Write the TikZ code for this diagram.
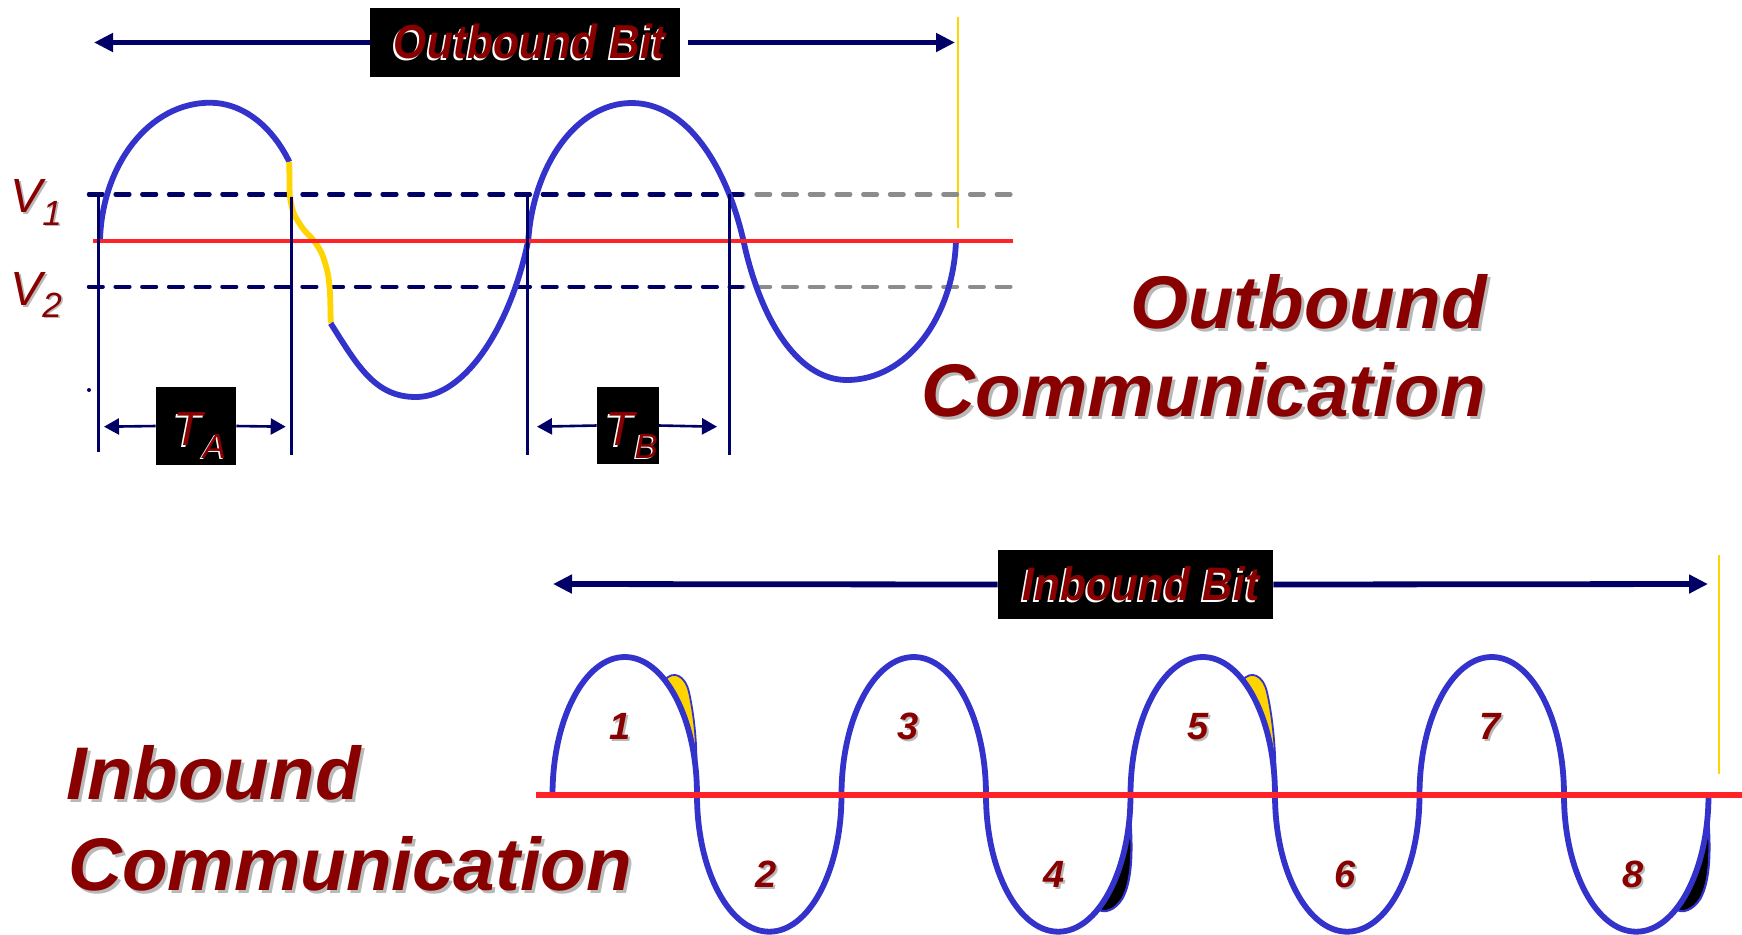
\documentclass[tikz,border=0pt]{standalone}
\usepackage{fontspec}
\setmainfont{Liberation Sans}
\usepackage{xcolor}
\usepackage{graphicx}
\usetikzlibrary{arrows.meta}
\definecolor{navy}{RGB}{0,0,102}
\definecolor{wblue}{RGB}{51,51,204}
\definecolor{lred}{RGB}{255,35,40}
\definecolor{gold}{RGB}{255,212,0}
\definecolor{dred}{RGB}{136,0,0}
\definecolor{dgray}{RGB}{140,140,140}
\definecolor{sgray}{RGB}{185,185,185}
\newcommand\shtext[4]{\makebox[0pt][l]{\hspace*{#2}\raisebox{#3}{\textcolor{#1}{#4}}}#4}
\newcommand\ttlfnt{\fontsize{37.3pt}{44pt}\selectfont\bfseries\itshape}
\newcommand\bitfnt{\fontsize{21.3pt}{24pt}\selectfont\bfseries\itshape}
\newcommand\numfnt{\fontsize{19pt}{22pt}\selectfont\bfseries\itshape}
\newcommand\vfnt{\fontsize{24pt}{28pt}\selectfont\itshape}
\newcommand\subfnt{\fontsize{17.5pt}{20pt}\selectfont\itshape}
\begin{document}
\begin{tikzpicture}[x=0.5pt,y=-0.5pt,
  wave/.style={wblue,line width=2.9pt},
  yel/.style={gold,line width=2.9pt},
  dsh/.style={line width=2.2pt,dash pattern=on 6.8pt off 6.55pt,line cap=round},
  vline/.style={navy,line width=1.6pt},
  bigarrow/.style={navy,line width=2.9pt,-{Triangle[length=9.5pt,width=9pt]}},
  smallarrow/.style={navy,line width=1.3pt,-{Triangle[length=7.5pt,width=8pt]}},
  blackbox/.style={fill=black,inner sep=0pt},
  lbl/.style={inner sep=0pt,text=dred},
  ysliver/.style={fill=gold,draw=wblue,line width=0.9pt},
  bsliver/.style={fill=black,draw=wblue,line width=1.1pt}]
\useasboundingbox (0,0) rectangle (1742,934);

% ================= OUTBOUND =================
\draw[gold,line width=0.8pt] (958,17) -- (958,228);
% dashed level lines
\draw[dsh,dgray] (89,194.3) -- (1013,194.3);
\draw[dsh,dgray] (89,286.7) -- (1013,286.7);
\draw[dsh,navy] (89,194.3) -- (742,194.3);
\draw[dsh,navy] (89,286.7) -- (742,286.7);
% waveform
\draw[wave] (100,240) .. controls (102.2,164.5) and (149.5,102.7) .. (210,102.7)
  arc[start angle=270,end angle=325.3,x radius=96.5,y radius=137.3];
\draw[yel] plot[smooth] coordinates {(289.3,161.9) (289.5,180) (290,197) (294,214) (303.3,229) (313.3,240) (321.7,253.3) (327.5,272) (329.8,290) (330.5,310) (330.7,323.3)};
\draw[wave] (330.7,323.3) .. controls (358.7,368) and (376,397) .. (416,397)
  .. controls (466.5,397) and (511.5,323.2) .. (528.3,240)
  .. controls (533.5,164.6) and (576.9,103) .. (631.7,103)
  .. controls (687.5,103) and (726.6,167.4) .. (743.3,240)
  .. controls (758.9,314.2) and (795.1,380) .. (847,380)
  .. controls (907,380) and (953.8,317) .. (956,240);
% zero line
\draw[lred,line width=2pt] (92.7,240.7) -- (1013,240.7);
% vertical timing lines
\draw[vline] (98.7,191.7) -- (98.7,452);
\draw[vline] (291.7,197) -- (291.7,455);
\draw[vline] (527.5,197) -- (527.5,455);
\draw[vline] (729.3,194) -- (729.3,455);
\fill[navy] (89,390) circle (1pt);
% Outbound Bit box and arrow
\node[blackbox,minimum width=155pt,minimum height=34.5pt] (obit) at (525,42.5)
  {\bitfnt\color{dred}\hspace*{5pt}\scalebox{1}[1.12]{\shtext{white}{-1pt}{-1pt}{Outbound Bit}}};
\coordinate (oL) at (94,42.5);
\coordinate (oR) at (955,42.5);
\draw[bigarrow] (obit.west) -- (oL);
\draw[bigarrow] ([xshift=4pt]obit.east) -- (oR);
% V labels
\node[lbl,anchor=base west] (v1) at (10,212)
  {{\vfnt\shtext{sgray}{1pt}{-1pt}{V}}{\subfnt\raisebox{-6.5pt}{\shtext{sgray}{0.8pt}{-0.8pt}{1}}}};
\node[lbl,anchor=base west] (v2) at (10,305)
  {{\vfnt\shtext{sgray}{1pt}{-1pt}{V}}{\subfnt\raisebox{-6pt}{\shtext{sgray}{0.8pt}{-0.8pt}{2}}}};
% TA
\node[blackbox,text=dred,minimum width=40pt,text height=28.9pt,text depth=9.9pt] (ta) at (196,426)
  {\hspace*{4pt}{\vfnt\shtext{white}{-1pt}{-1pt}{T}}{\subfnt\raisebox{-6.5pt}{\shtext{white}{-0.8pt}{-0.8pt}{A}}}};
\coordinate (taL) at (104,426.7);
\coordinate (taR) at (285.7,426.7);
\draw[smallarrow] (ta.west) -- (taL);
\draw[smallarrow] (ta.east) -- (taR);
% TB
\node[blackbox,text=dred,minimum width=30.75pt,text height=29pt,text depth=9.5pt] (tb) at (627.75,425.5)
  {\hspace*{4pt}{\vfnt\shtext{white}{-1pt}{-1pt}{T}}{\subfnt\raisebox{-6.5pt}{\shtext{white}{-0.8pt}{-0.8pt}{B}}}};
\coordinate (tbL) at (537,426.7);
\coordinate (tbR) at (717,426.7);
\draw[smallarrow] (tb.west) -- (tbL);
\draw[smallarrow] (tb.east) -- (tbR);
% title
\node[lbl,anchor=base east] (ot1) at (1487,328) {\ttlfnt\shtext{sgray}{1.5pt}{-1.5pt}{Outbound}};
\node[lbl,anchor=base east] (ot2) at (1486,416) {\ttlfnt\shtext{sgray}{1.5pt}{-1.5pt}{Communication}};

% ================= INBOUND =================
\draw[gold,line width=0.8pt] (1719,555) -- (1719,774);
% slivers
\draw[ysliver] (664.7,680.1) .. controls (673,670) and (685,675) .. (689,692)
  .. controls (694,715) and (697.5,745) .. (696.2,775)
  arc[start angle=351.7,end angle=303.6,x radius=72.25,y radius=138] -- cycle;
\draw[ysliver] (1242.7,680.1) .. controls (1251,670) and (1263,675) .. (1267,692)
  .. controls (1273,718) and (1277,760) .. (1274.9,789)
  arc[start angle=357.5,end angle=303.6,x radius=72.25,y radius=138] -- cycle;
\draw[bsliver] (1129.8,814) .. controls (1133,850) and (1132,882) .. (1122,899)
  .. controls (1115,910) and (1104,914) .. (1098.1,909)
  arc[start angle=56.5,end angle=8,x radius=72.25,y radius=136.7] -- cycle;
\draw[bsliver] (1707.8,814) .. controls (1711,850) and (1710,882) .. (1700,899)
  .. controls (1693,910) and (1682,914) .. (1676.1,909)
  arc[start angle=56.5,end angle=8,x radius=72.25,y radius=136.7] -- cycle;
% waveform
\draw[wave] (552.5,795)
  arc[start angle=180,end angle=360,x radius=72.25,y radius=138]
  arc[start angle=180,end angle=0,x radius=72.25,y radius=136.7]
  arc[start angle=180,end angle=360,x radius=72.25,y radius=138]
  arc[start angle=180,end angle=0,x radius=72.25,y radius=136.7]
  arc[start angle=180,end angle=360,x radius=72.25,y radius=138]
  arc[start angle=180,end angle=0,x radius=72.25,y radius=136.7]
  arc[start angle=180,end angle=360,x radius=72.25,y radius=138]
  arc[start angle=180,end angle=0,x radius=72.25,y radius=136.7];
\draw[lred,line width=3.3pt] (536,795) -- (1742,795);
% numbers
\foreach \n/\x/\y in {1/620/739,3/908/739,5/1198/739,7/1490/739,2/766/887,4/1054/887,6/1345/887,8/1633/887}
  \node[lbl,anchor=base] (num\n) at (\x,\y) {\numfnt\shtext{sgray}{1pt}{-1pt}{\n}};
% Inbound Bit box and arrow
\node[blackbox,minimum width=137.5pt,minimum height=34.5pt] (ibit) at (1135.5,584.5)
  {\bitfnt\color{dred}\hspace*{5.5pt}\scalebox{1}[1.1]{\shtext{white}{-1pt}{-1pt}{Inbound Bit}}};
\coordinate (iL) at (553,584);
\coordinate (iR) at (1708,584);
\draw[bigarrow] (ibit.west) -- (iL);
\draw[bigarrow] (ibit.east) -- (iR);
% title
\node[lbl,anchor=base west] (it1) at (66,799) {\ttlfnt\shtext{sgray}{1.5pt}{-1.5pt}{Inbound}};
\node[lbl,anchor=base west] (it2) at (68,890) {\ttlfnt\shtext{sgray}{1.5pt}{-1.5pt}{Communication}};
\end{tikzpicture}
\end{document}
